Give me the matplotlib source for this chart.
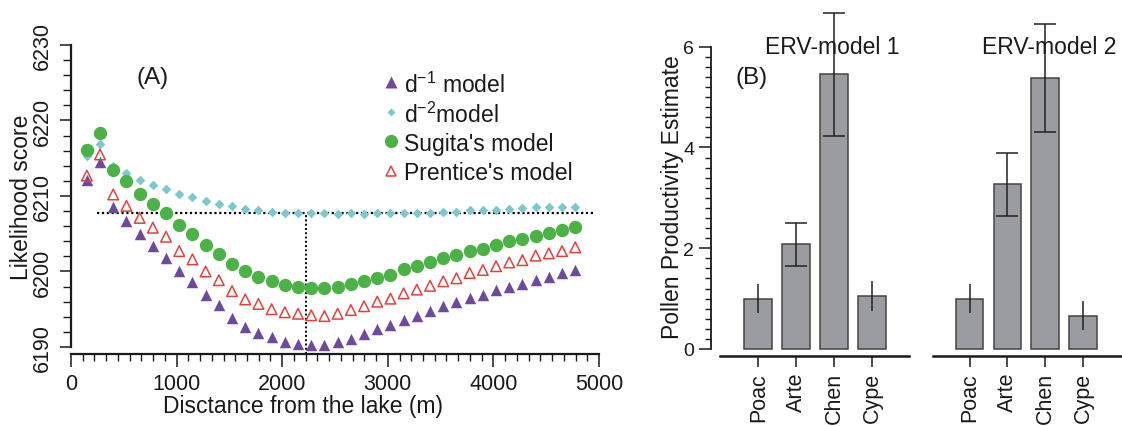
import numpy as np
import matplotlib
matplotlib.use('Agg')
import matplotlib.pyplot as plt
from matplotlib.ticker import MultipleLocator
from matplotlib.lines import Line2D

plt.rcParams['font.family'] = ['Liberation Sans', 'DejaVu Sans']
plt.rcParams['mathtext.fontset'] = 'custom'
plt.rcParams['mathtext.rm'] = 'Liberation Sans'
plt.rcParams['mathtext.it'] = 'Liberation Sans:italic'
plt.rcParams['mathtext.bf'] = 'Liberation Sans:bold'

## (A) likelihood score vs distance
dist = [150, 275, 400, 525, 650, 775, 900, 1025, 1150, 1275,
        1400, 1525, 1650, 1775, 1900, 2025, 2150, 2275, 2400, 2525,
        2650, 2775, 2900, 3025, 3150, 3275, 3400, 3525, 3650, 3775,
        3900, 4025, 4150, 4275, 4400, 4525, 4650, 4775]

d1_model = [6212.1, 6214.5, 6208.6, 6206.7, 6205.0, 6203.4, 6201.8, 6200.0, 6198.6, 6196.9,
            6195.5, 6193.9, 6192.7, 6191.9, 6191.3, 6190.7, 6190.4, 6190.3, 6190.3, 6190.6,
            6191.1, 6191.7, 6192.4, 6192.9, 6193.6, 6194.1, 6194.7, 6195.4, 6195.9, 6196.5,
            6196.9, 6197.6, 6198.0, 6198.4, 6198.9, 6199.3, 6199.8, 6200.2]

d2_model = [6215.3, 6216.9, 6214.0, 6213.1, 6212.1, 6211.4, 6210.9, 6210.3, 6209.9, 6209.4,
            6209.0, 6208.7, 6208.3, 6208.1, 6207.9, 6207.8, 6207.7, 6207.7, 6207.7, 6207.6,
            6207.7, 6207.6, 6207.7, 6207.7, 6207.7, 6207.8, 6207.8, 6207.9, 6207.9, 6208.1,
            6208.1, 6208.1, 6208.3, 6208.4, 6208.5, 6208.5, 6208.5, 6208.6]

sugita = [6216.1, 6218.4, 6213.5, 6212.0, 6210.3, 6209.0, 6207.8, 6206.1, 6205.0, 6203.5,
          6202.3, 6201.0, 6200.0, 6199.3, 6198.7, 6198.2, 6198.0, 6197.8, 6197.75, 6198.0,
          6198.3, 6198.8, 6199.2, 6199.6, 6200.3, 6200.7, 6201.3, 6201.8, 6202.2, 6202.7,
          6203.0, 6203.5, 6204.0, 6204.3, 6204.7, 6205.1, 6205.5, 6205.9]

prentice = [6212.7, 6215.5, 6210.2, 6208.7, 6207.1, 6205.8, 6204.6, 6202.7, 6201.6, 6200.0,
            6198.85, 6197.4, 6196.3, 6195.7, 6195.0, 6194.6, 6194.4, 6194.2, 6194.1, 6194.4,
            6194.9, 6195.4, 6196.0, 6196.4, 6197.1, 6197.6, 6198.1, 6198.7, 6199.1, 6199.8,
            6200.2, 6200.7, 6201.2, 6201.5, 6202.1, 6202.4, 6202.7, 6203.2]

cut_score = 6207.7      # horizontal reference line
cut_span = [245, 4950]
rsap_dist = 2230        # vertical reference line

## (B) pollen productivity estimates
taxa = ['Poac', 'Arte', 'Chen', 'Cype']
ppe_m1 = [1.0, 2.08, 5.45, 1.05]
err_m1 = [0.29, 0.43, 1.22, 0.29]
ppe_m2 = [1.0, 3.27, 5.38, 0.66]
err_m2 = [0.29, 0.63, 1.08, 0.29]
model_names = ['ERV-model 1', 'ERV-model 2']

W, H = 1122, 427
txt = '#1a1a1a'
fs = 16.5

c_d1, c_d2, c_sug, c_pre = '#6e4a9c', '#7cc8cc', '#4cb147', '#e0433f'

fig = plt.figure(figsize=(W / 100, H / 100), dpi=100)


def px_axes(left, top, right, bottom):
    return fig.add_axes([left / W, 1 - bottom / H, (right - left) / W, (bottom - top) / H])


def px_text(x, y, s, **kw):
    kw.setdefault('fontsize', fs)
    kw.setdefault('color', txt)
    return fig.text(x / W, 1 - y / H, s, **kw)


# ---------------- panel A ----------------
ax = px_axes(71, 46, 599, 355)
ax.set_xlim(0, 5000)
ax.set_ylim(6189.07, 6230)
for s in ['top', 'right']:
    ax.spines[s].set_visible(False)
ax.spines['left'].set_bounds(6190, 6230)
ax.spines['left'].set_linewidth(1.6)
ax.spines['bottom'].set_linewidth(1.6)
ax.spines['left'].set_color(txt)
ax.spines['bottom'].set_color(txt)

ax.xaxis.set_major_locator(MultipleLocator(1000))
ax.xaxis.set_minor_locator(MultipleLocator(1000 / 9))
ax.yaxis.set_major_locator(MultipleLocator(10))
ax.yaxis.set_minor_locator(MultipleLocator(2))
ax.tick_params(axis='x', which='major', length=9.5, width=1.1, pad=4, labelsize=15.5, colors=txt)
ax.tick_params(axis='x', which='minor', length=5, width=1.0, colors=txt)
ax.tick_params(axis='y', which='major', length=8, width=1.1, pad=5, labelsize=15.5, colors=txt)
ax.tick_params(axis='y', which='minor', length=6, width=1.0, colors=txt)
for lab in ax.get_yticklabels():
    lab.set_rotation(90)
    lab.set_va('center')

ax.scatter(dist, d2_model, marker='D', s=24, color=c_d2, zorder=3, linewidths=0)
ax.scatter(dist, d1_model, marker='^', s=68, color=c_d1, zorder=3, linewidths=0)
ax.scatter(dist, prentice, marker='^', s=58, facecolors='none', edgecolors=c_pre,
           linewidths=1.1, zorder=3)
ax.scatter(dist, sugita, marker='o', s=92, color=c_sug, zorder=4, linewidths=0)

ax.plot(cut_span, [cut_score, cut_score], color='k', lw=1.6, ls=(0, (1, 1.2)), zorder=2)
ax.vlines(rsap_dist, ax.get_ylim()[0], cut_score, color='k', lw=1.4, ls=(0, (1, 1.2)), zorder=2)

# hand-placed key, evenly spaced rows
keys = [
    dict(marker='^', ms=8, color=c_d1, mec='none'),
    dict(marker='D', ms=4.5, color=c_d2, mec='none'),
    dict(marker='o', ms=9.5, color=c_sug, mec='none'),
    dict(marker='^', ms=7.5, mfc='none', mec=c_pre, mew=1.1),
]
labels = ['d$^{-1}$ model', 'd$^{-2}$model', "Sugita's model", "Prentice's model"]
for r, (k, lab) in enumerate(zip(keys, labels)):
    yy = 83 + 29.5 * r
    fig.add_artist(Line2D([391 / W], [1 - yy / H], ls='none', transform=fig.transFigure, **k))
    px_text(404, yy, lab, ha='left', va='center_baseline')

px_text(153, 78, '(A)', ha='center', va='center', fontsize=17.5)
px_text(303, 407, 'Disctance from the lake (m)', ha='center', va='center')
px_text(22, 197, 'Likelihood score', ha='center', va='center', rotation=90)

# ---------------- panel B ----------------
bar_c = '#9a9ca1'
ylo = -7 / 50.38
groups = [
    (px_axes(711, 47.7, 909, 357), (-1.245, 3.966), -1.0, ppe_m1, err_m1),
    (px_axes(933, 47.7, 1122, 357), (-0.97, 4.03), -0.97, ppe_m2, err_m2),
]
x = np.arange(len(taxa))
for i, (bx, xl, x0, ppe, err) in enumerate(groups):
    bx.set_xlim(*xl)
    bx.set_ylim(ylo, 6)
    for s in ['top', 'right']:
        bx.spines[s].set_visible(False)
    bx.spines['bottom'].set_bounds(x0, xl[1])
    bx.spines['bottom'].set_linewidth(1.8)
    bx.spines['bottom'].set_color(txt)
    bx.bar(x, ppe, width=0.73, color=bar_c, edgecolor='#444444', linewidth=1.1, zorder=2)
    for j in range(len(taxa)):
        cap = 8 if taxa[j] in ('Arte', 'Chen') else 0
        bx.errorbar(x[j], ppe[j], yerr=err[j], fmt='none', ecolor='#222222',
                    elinewidth=1.1, capsize=cap, capthick=1.1, zorder=3, clip_on=False)
    bx.set_xticks(x)
    bx.set_xticklabels(taxa, rotation=90, fontsize=15.5, color=txt)
    bx.tick_params(axis='x', length=8, width=1.1, pad=3.5, colors=txt)
    if i == 0:
        bx.spines['left'].set_bounds(0, 6)
        bx.spines['left'].set_linewidth(1.3)
        bx.spines['left'].set_color(txt)
        bx.yaxis.set_major_locator(MultipleLocator(2))
        bx.yaxis.set_minor_locator(MultipleLocator(0.2))
        bx.tick_params(axis='y', which='major', length=9, width=1.1, pad=3, labelsize=14, colors=txt)
        bx.tick_params(axis='y', which='minor', length=4.5, width=1.0, colors=txt)
    else:
        bx.spines['left'].set_visible(False)
        bx.set_yticks([])

px_text(832, 48, model_names[0], ha='center', va='center')
px_text(1049, 48, model_names[1], ha='center', va='center')
px_text(752, 78, '(B)', ha='center', va='center', fontsize=17.5)
px_text(673, 197, 'Pollen Productivity Estimate', ha='center', va='center', rotation=90)

plt.savefig('out.png', dpi=100)
plt.close()
